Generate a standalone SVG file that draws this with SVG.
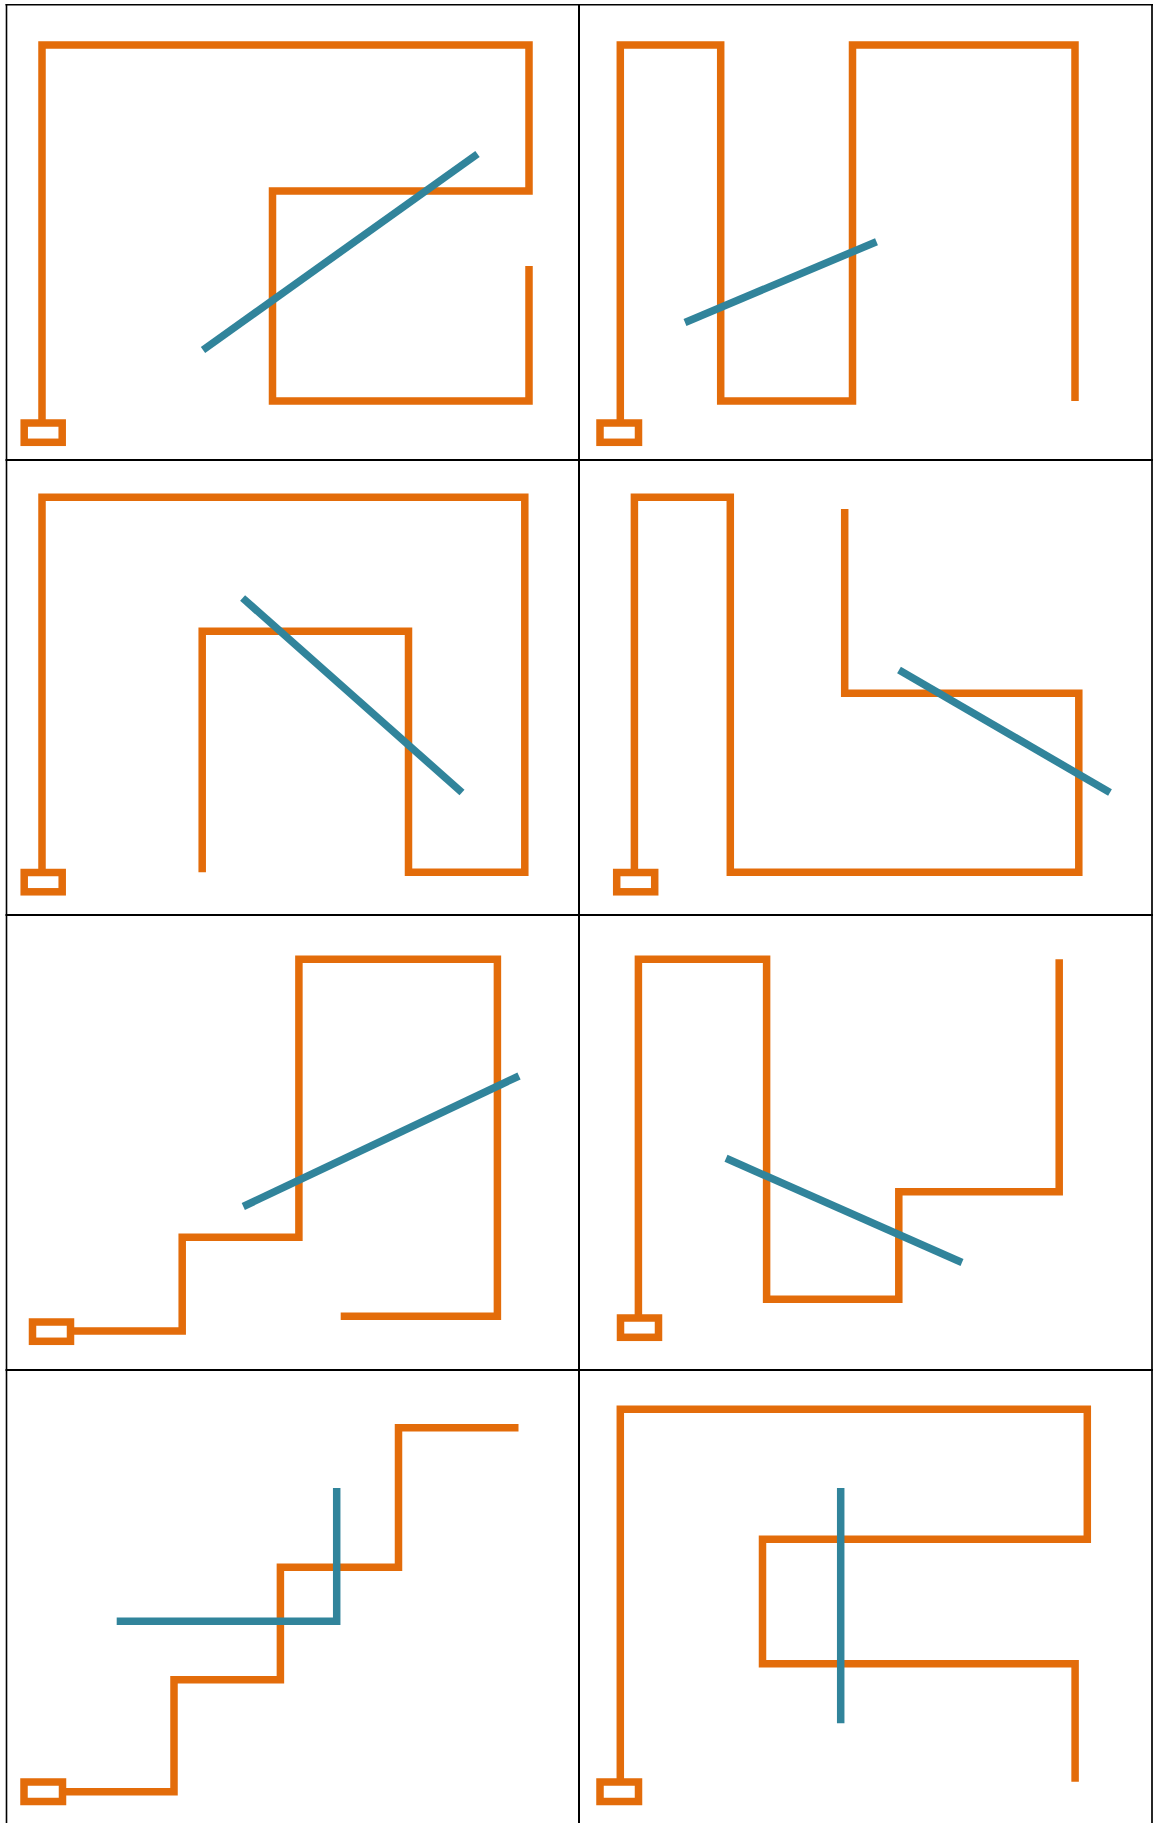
<svg xmlns="http://www.w3.org/2000/svg" width="1154" height="1823" viewBox="0 0 1154 1823">
<style>
.grid{stroke:#000;stroke-width:2;fill:none}
.o{stroke:#E36C0A;stroke-width:7.5;fill:none;stroke-linejoin:miter;stroke-linecap:butt}
.t{stroke:#31849B;stroke-width:7.5;fill:none;stroke-linejoin:miter;stroke-linecap:butt}
</style>
<rect width="1154" height="1823" fill="#fff"/>
<g id="grid" class="grid">
<line x1="5.5" y1="4.7" x2="1153" y2="4.7" stroke-width="1.6"/>
<line x1="5.5" y1="460" x2="1153" y2="460"/>
<line x1="5.5" y1="915" x2="1153" y2="915"/>
<line x1="5.5" y1="1370" x2="1153" y2="1370"/>
<line x1="6.5" y1="4" x2="6.5" y2="1823" stroke-width="1.6"/>
<line x1="579" y1="4" x2="579" y2="1823"/>
<line x1="1152" y1="4" x2="1152" y2="1823" stroke-width="1.7"/>
</g>
<g id="panel1">
<rect class="o" x="24.2" y="423" width="38" height="19.3"/>
<polyline class="o" points="42,423 42,45 529,45 529,191 272.5,191 272.5,401 529,401 529,266"/>
<line class="t" x1="203" y1="350" x2="477.5" y2="154"/>
</g>
<g id="panel2">
<rect class="o" x="600" y="423" width="38.5" height="19.3"/>
<polyline class="o" points="620.3,423 620.3,45 720.7,45 720.7,401 852.5,401 852.5,45 1075,45 1075,401"/>
<line class="t" x1="685" y1="322.5" x2="876.5" y2="241.7"/>
</g>
<g id="panel3">
<rect class="o" x="24.2" y="872.5" width="38" height="19.3"/>
<polyline class="o" points="42,872.5 42,497.3 524.8,497.3 524.8,872.3 408.5,872.3 408.5,631.3 202.2,631.3 202.2,872.3"/>
<line class="t" x1="242.6" y1="598" x2="462" y2="792.5"/>
</g>
<g id="panel4">
<rect class="o" x="616.7" y="872.5" width="38" height="19.3"/>
<polyline class="o" points="634.4,872.5 634.4,497.3 730.3,497.3 730.3,872.3 1078.8,872.3 1078.8,693.3 844.7,693.3 844.7,509"/>
<line class="t" x1="899" y1="670" x2="1110" y2="792.5"/>
</g>
<g id="panel5">
<rect class="o" x="32.5" y="1322" width="38" height="19.3"/>
<polyline class="o" points="70.5,1331 182.2,1331 182.2,1237.3 298.9,1237.3 298.9,959.3 497.4,959.3 497.4,1316.3 340.7,1316.3"/>
<line class="t" x1="243.3" y1="1206.5" x2="519" y2="1076"/>
</g>
<g id="panel6">
<rect class="o" x="620.5" y="1318" width="38" height="19.3"/>
<polyline class="o" points="638.4,1318 638.4,959.3 766.6,959.3 766.6,1299.3 898.8,1299.3 898.8,1191.7 1059.2,1191.7 1059.2,959.3"/>
<line class="t" x1="726" y1="1158.3" x2="962" y2="1262.5"/>
</g>
<g id="panel7">
<rect class="o" x="24" y="1782" width="38.5" height="19.5"/>
<polyline class="o" points="62.5,1791.7 174,1791.7 174,1679.7 280.4,1679.7 280.4,1567.3 398.5,1567.3 398.5,1427.7 518.5,1427.7"/>
<polyline class="t" points="116.7,1621.3 336.7,1621.3 336.7,1488"/>
</g>
<g id="panel8">
<rect class="o" x="600" y="1782" width="38.5" height="19.5"/>
<polyline class="o" points="620.3,1782 620.3,1409.3 1087.3,1409.3 1087.3,1539.3 762.5,1539.3 762.5,1663.7 1075.1,1663.7 1075.1,1781.7"/>
<line class="t" x1="840.7" y1="1488" x2="840.7" y2="1723.3"/>
</g>
</svg>
